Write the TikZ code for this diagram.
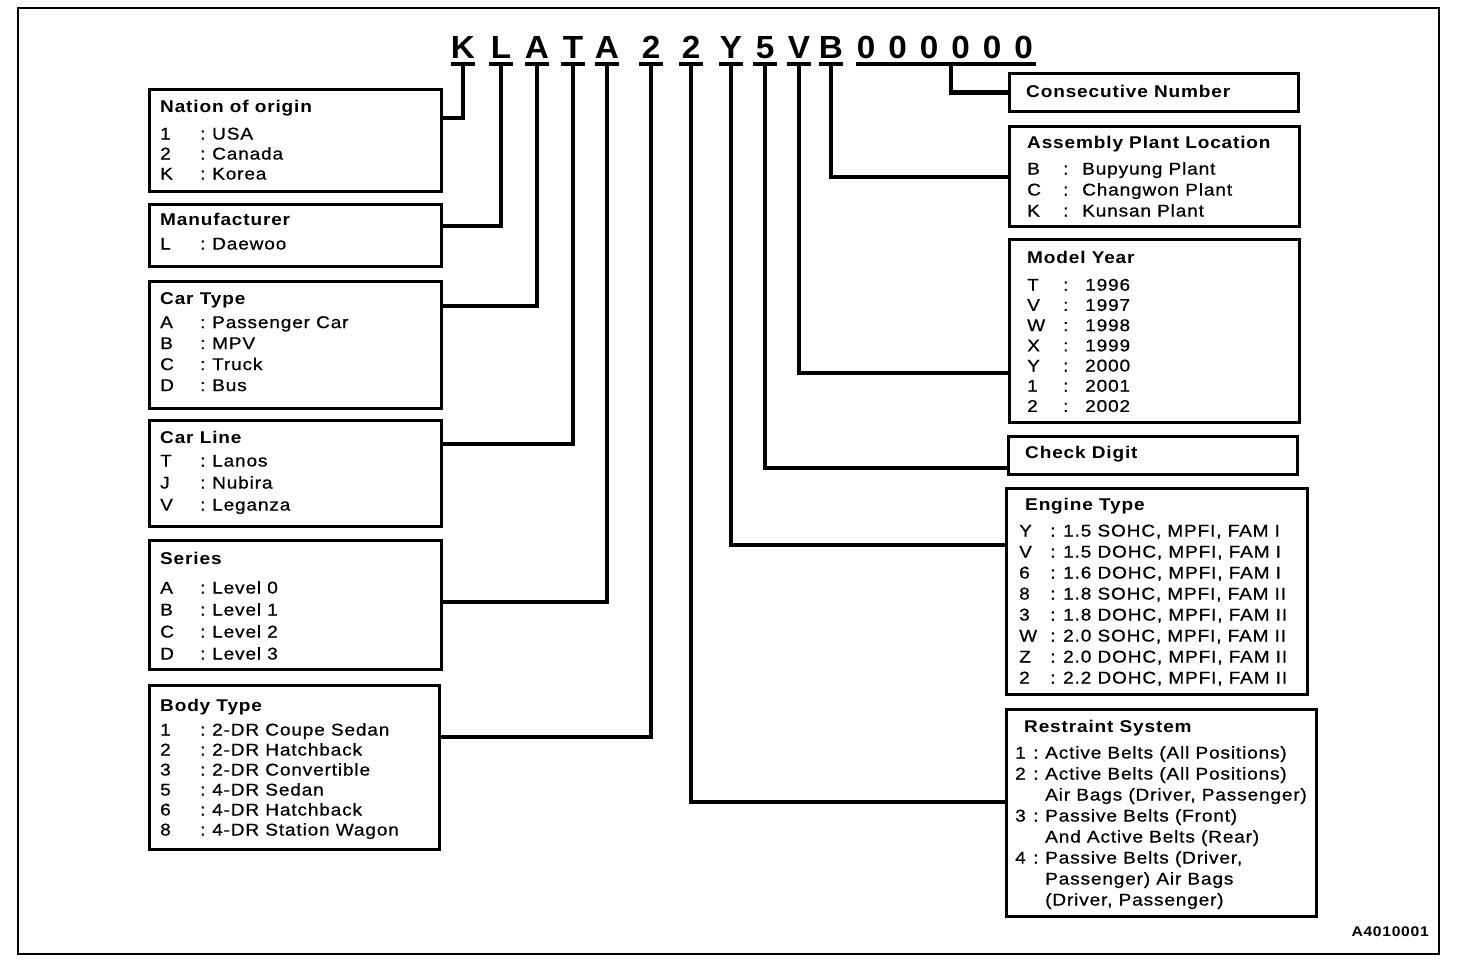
\documentclass[tikz,border=0pt]{standalone}
\usepackage{fontspec}
\setmainfont{Liberation Sans}[FakeStretch=1.12,LetterSpace=5,UprightFeatures={FakeBold=0.7}]
\newfontfamily\vinfont{Liberation Sans}[FakeStretch=1.04]
\usetikzlibrary{calc}

% key : value rows, one macro per column layout
\newcommand{\lkv}[2]{\makebox[40pt][l]{#1}\makebox[12pt][l]{:}#2}
\newcommand{\pkv}[2]{\makebox[36pt][l]{#1}\makebox[19pt][l]{:}#2}
\newcommand{\ykv}[2]{\makebox[36pt][l]{#1}\makebox[22pt][l]{:}#2}
\newcommand{\ekv}[2]{\makebox[31pt][l]{#1}\makebox[13pt][l]{:}#2}
\newcommand{\skv}[2]{\makebox[18pt][l]{#1}\makebox[12pt][l]{:}#2}

\begin{document}
\begin{tikzpicture}[x=1pt,y=-1pt,
  box/.style={draw,line width=2.8pt,anchor=north west,inner sep=0pt},
  txt/.style={anchor=north west,inner sep=0pt,align=left,font=\fontsize{17pt}{20pt}\selectfont},
  vin/.style={anchor=base,inner sep=0pt,text depth=0pt,font=\vinfont\bfseries\fontsize{32pt}{32pt}\selectfont},
  bar/.style={line width=4pt},
  stem/.style={line width=4.5pt}]
\useasboundingbox (0,0) rectangle (1472,976);
\draw[line width=2.5pt] (18,8) rectangle (1439,954);

% VIN characters
\foreach \ch/\x [count=\i] in {K/463,L/501,A/537,T/573,A/607,2/651,2/691,Y/731,5/765,V/799,B/831}{
  \node[vin] (c\i) at (\x,59) {\ch};
  \draw[bar] ([xshift=-12pt,yshift=-5pt]c\i.base) -- ([xshift=12pt,yshift=-5pt]c\i.base);
}
\foreach \i in {0,...,5}
  \node[vin] (z\i) at ({866+31.5*\i},59) {0};
\draw[bar] ([xshift=-10pt,yshift=-5pt]z0.base) -- ([xshift=12pt,yshift=-5pt]z5.base);

% left boxes
\node[box,minimum width=292pt,minimum height=102pt] (nation) at (148,88) {};
\node[box,minimum width=292pt,minimum height=62pt] (manuf) at (148,203) {};
\node[box,minimum width=292pt,minimum height=127pt] (cartype) at (148,280) {};
\node[box,minimum width=292pt,minimum height=106pt] (carline) at (148,419) {};
\node[box,minimum width=292pt,minimum height=129pt] (series) at (148,539) {};
\node[box,minimum width=290pt,minimum height=164pt] (body) at (148,684) {};

\node[txt] (nation-t) at (160,100) {\textbf{Nation of origin}\\[7pt]
  \lkv{1}{USA}\\ \lkv{2}{Canada}\\ \lkv{K}{Korea}};
\node[txt] (manuf-t) at (160,213) {\textbf{Manufacturer}\\[4pt] \lkv{L}{Daewoo}};
\node[txt,font=\fontsize{17pt}{21pt}\selectfont] (cartype-t) at (160,292) {\textbf{Car Type}\\[3pt]
  \lkv{A}{Passenger Car}\\ \lkv{B}{MPV}\\ \lkv{C}{Truck}\\ \lkv{D}{Bus}};
\node[txt,font=\fontsize{17pt}{22pt}\selectfont] (carline-t) at (160,431) {\textbf{Car Line}\\[1pt]
  \lkv{T}{Lanos}\\ \lkv{J}{Nubira}\\ \lkv{V}{Leganza}};
\node[txt,font=\fontsize{17pt}{22pt}\selectfont] (series-t) at (160,552) {\textbf{Series}\\[7pt]
  \lkv{A}{Level 0}\\ \lkv{B}{Level 1}\\ \lkv{C}{Level 2}\\ \lkv{D}{Level 3}};
\node[txt] (body-t) at (160,699) {\textbf{Body Type}\\[4pt]
  \lkv{1}{2-DR Coupe Sedan}\\ \lkv{2}{2-DR Hatchback}\\ \lkv{3}{2-DR Convertible}\\
  \lkv{5}{4-DR Sedan}\\ \lkv{6}{4-DR Hatchback}\\ \lkv{8}{4-DR Station Wagon}};

% right boxes
\node[box,minimum width=289pt,minimum height=38pt] (consec) at (1008,72) {};
\node[box,minimum width=290pt,minimum height=100pt] (plant) at (1008,125) {};
\node[box,minimum width=290pt,minimum height=183pt] (year) at (1008,238) {};
\node[box,minimum width=289pt,minimum height=38pt] (check) at (1007,435) {};
\node[box,minimum width=301pt,minimum height=206pt] (engine) at (1005,487) {};
\node[box,minimum width=310pt,minimum height=207pt] (restr) at (1005,708) {};

\node[txt] (consec-t) at (1026,85) {\textbf{Consecutive Number}};
\node[txt,font=\fontsize{17pt}{21pt}\selectfont] (plant-t) at (1027,136) {\textbf{Assembly Plant Location}\\[5pt]
  \pkv{B}{Bupyung Plant}\\ \pkv{C}{Changwon Plant}\\ \pkv{K}{Kunsan Plant}};
\node[txt,font=\fontsize{17pt}{20.2pt}\selectfont] (year-t) at (1027,251) {\textbf{Model Year}\\[7pt]
  \ykv{T}{1996}\\ \ykv{V}{1997}\\ \ykv{W}{1998}\\ \ykv{X}{1999}\\
  \ykv{Y}{2000}\\ \ykv{1}{2001}\\ \ykv{2}{2002}};
\node[txt] (check-t) at (1025,446) {\textbf{Check Digit}};
\node[txt,font=\fontsize{17pt}{21pt}\selectfont] (engine-t) at (1019,498) {\hspace*{6pt}\textbf{Engine Type}\\[5pt]
  \ekv{Y}{1.5 SOHC, MPFI, FAM I}\\ \ekv{V}{1.5 DOHC, MPFI, FAM I}\\
  \ekv{6}{1.6 DOHC, MPFI, FAM I}\\ \ekv{8}{1.8 SOHC, MPFI, FAM II}\\
  \ekv{3}{1.8 DOHC, MPFI, FAM II}\\ \ekv{W}{2.0 SOHC, MPFI, FAM II}\\
  \ekv{Z}{2.0 DOHC, MPFI, FAM II}\\ \ekv{2}{2.2 DOHC, MPFI, FAM II}};
\node[txt,font=\fontsize{17pt}{21pt}\selectfont] (restr-t) at (1015,720) {\hspace*{9pt}\textbf{Restraint System}\\[5pt]
  \skv{1}{Active Belts (All Positions)}\\ \skv{2}{Active Belts (All Positions)}\\
  \hspace*{30pt}Air Bags (Driver, Passenger)\\ \skv{3}{Passive Belts (Front)}\\
  \hspace*{30pt}And Active Belts (Rear)\\ \skv{4}{Passive Belts (Driver,}\\
  \hspace*{30pt}Passenger) Air Bags\\ \hspace*{30pt}(Driver, Passenger)};

% connectors
\draw[stem] ($(c1.base)+(0,5)$) |- ([yshift=-30pt]nation.north east);
\draw[stem] ($(c2.base)+(0,5)$) |- ([yshift=-23pt]manuf.north east);
\draw[stem] ($(c3.base)+(0,5)$) |- ([yshift=-26pt]cartype.north east);
\draw[stem] ($(c4.base)+(0,5)$) |- ([yshift=-25pt]carline.north east);
\draw[stem] ($(c5.base)+(0,5)$) |- ([yshift=-63pt]series.north east);
\draw[stem] ($(c6.base)+(0,5)$) |- ([yshift=-53pt]body.north east);
\draw[stem] ($(c7.base)+(0,5)$) |- ([yshift=-94pt]restr.north west);
\draw[stem] ($(c8.base)+(0,5)$) |- ([yshift=-58pt]engine.north west);
\draw[stem] ($(c9.base)+(0,5)$) |- ([yshift=-33pt]check.north west);
\draw[stem] ($(c10.base)+(0,5)$) |- ([yshift=-135pt]year.north west);
\draw[stem] ($(c11.base)+(0,5)$) |- ([yshift=-52pt]plant.north west);
\draw[stem] ($(z2.base)!0.7!(z3.base)+(0,5)$) |- (consec.west);

\node[anchor=east,inner sep=0pt,font=\fontsize{14pt}{14pt}\selectfont\bfseries] (figno) at (1429,932) {A4010001};
\end{tikzpicture}
\end{document}
